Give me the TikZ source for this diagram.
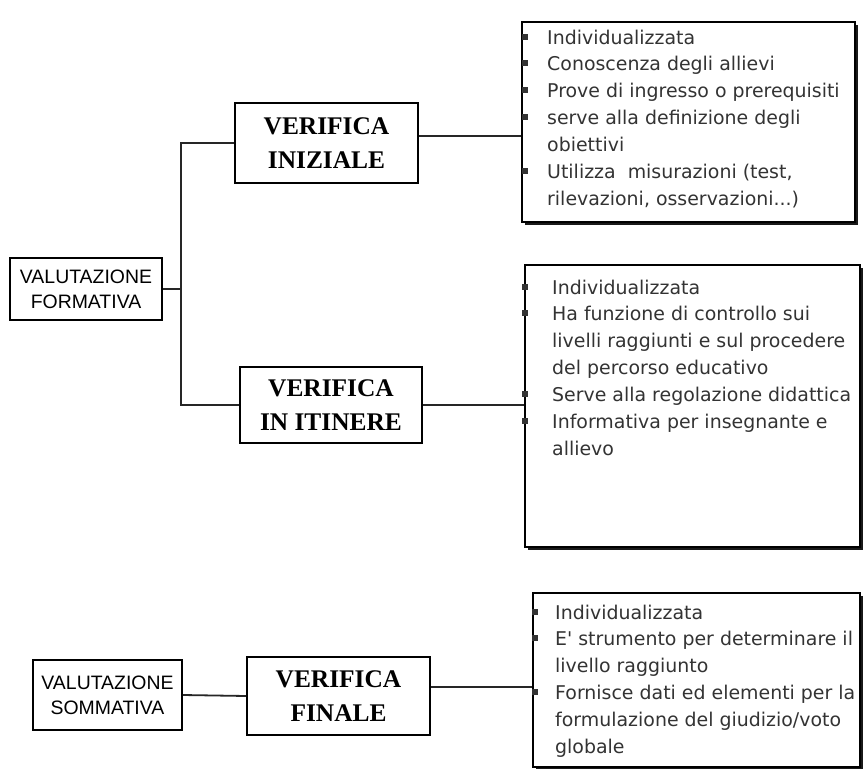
\documentclass[tikz,border=0pt]{standalone}
\usepackage{fontspec}
\setmainfont{Liberation Serif}
\newfontfamily\lsans{Liberation Sans}
\newfontfamily\dsans{DejaVu Sans}
\usetikzlibrary{shadows}
\newcommand\bl[1]{\leavevmode\llap{\makebox[#1][l]{\hspace{-3bp}\raisebox{4.5bp}{\rule{6bp}{6bp}}}}}
\begin{document}
\begin{tikzpicture}[x=1bp,y=-1bp,
  conn/.style={line width=1.8bp, black!85},
  titlebox/.style={draw, line width=1.8bp, inner sep=0pt, align=center, font=\fontsize{25.5}{34}\selectfont\bfseries},
  valbox/.style={draw, line width=1.8bp, inner sep=0pt, align=center, font=\lsans\fontsize{19.5}{25}\selectfont},
  infobox/.style={draw, line width=1.5bp, fill=white, inner sep=0pt, drop shadow={shadow xshift=3bp, shadow yshift=-3bp, fill=black, opacity=0.9}},
  infotext/.style={inner sep=0pt, anchor=north west, align=left, font=\dsans\fontsize{19}{27}\selectfont, text=black!80}]
\useasboundingbox[fill=white] (0,0) rectangle (863,769);

% left column
\node[valbox, minimum width=152bp, minimum height=62bp] (vf) at (86,289) {VALUTAZIONE\\FORMATIVA};
\node[titlebox, minimum width=183bp, minimum height=80bp] (vi) at (326.5,143) {VERIFICA\\INIZIALE};
\node[titlebox, minimum width=182bp, minimum height=76bp] (vit) at (331,405) {VERIFICA\\IN ITINERE};
\node[valbox, minimum width=149bp, minimum height=70bp] (vs) at (107.5,695) {VALUTAZIONE\\SOMMATIVA};
\node[titlebox, minimum width=183bp, minimum height=78bp] (vfin) at (338.5,696) {VERIFICA\\FINALE};

% info boxes
\node[infobox, minimum width=333bp, minimum height=200bp] (b1) at (688.5,122) {};
\node[infobox, minimum width=335bp, minimum height=282bp] (b2) at (692.5,406) {};
\node[infobox, minimum width=327bp, minimum height=174bp] (b3) at (696.5,680) {};

\node[infotext] (t1) at (547,25) {\strut\bl{22bp}Individualizzata\\
\bl{22bp}Conoscenza degli allievi\\
\bl{22bp}Prove di ingresso o prerequisiti\\
\bl{22bp}serve alla definizione degli\\
obiettivi\\
\bl{22bp}Utilizza\ \ misurazioni (test,\\
rilevazioni, osservazioni...)};

\node[infotext] (t2) at (552,275) {\strut\bl{27bp}Individualizzata\\
\bl{27bp}Ha funzione di controllo sui\\
livelli raggiunti e sul procedere\\
del percorso educativo\\
\bl{27bp}Serve alla regolazione didattica\\
\bl{27bp}Informativa per insegnante e\\
allievo};

\node[infotext] (t3) at (555,600) {\strut\bl{20bp}Individualizzata\\
\bl{20bp}E' strumento per determinare il\\
livello raggiunto\\
\bl{20bp}Fornisce dati ed elementi per la\\
formulazione del giudizio/voto\\
globale};

% connectors
\coordinate (jx) at (181,0);
\draw[conn] (vi.west) -- (vi.west -| jx) -- (vit.west -| jx) -- (vit.west);
\draw[conn] (vf.east) -- (vf.east -| jx);
\draw[conn] ([yshift=7bp]vi.east) -- ([yshift=7bp]vi.east -| b1.west);
\draw[conn] (vit.east) -- (vit.east -| b2.west);
\draw[conn] (vs.east) -- (vfin.west);
\draw[conn] ([yshift=9bp]vfin.east) -- ([yshift=9bp]vfin.east -| b3.west);
\end{tikzpicture}
\end{document}
